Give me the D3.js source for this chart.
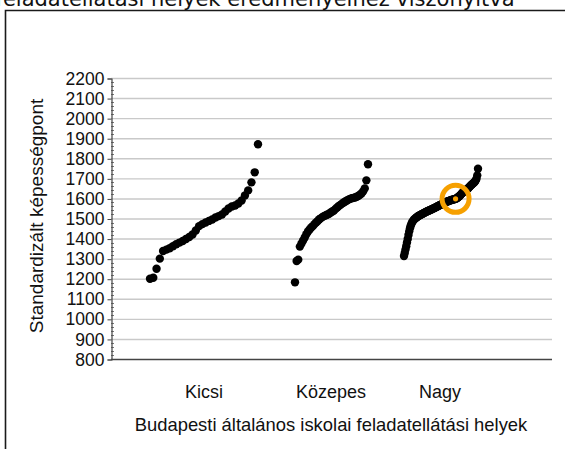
<!DOCTYPE html>
<html>
<head>
<meta charset="utf-8">
<script src="https://cdn.jsdelivr.net/npm/d3@7"></script>
<style>
  html, body { margin: 0; padding: 0; background: #fff; }
  svg { display: block; }
</style>
</head>
<body>
<svg id="chart" width="565" height="449"></svg>
<script>
// ---------------- DATA ----------------
const categories = ["Kicsi", "Közepes", "Nagy"];

const kicsiValues = [1200, 1205, 1250, 1300, 1338, 1345, 1352, 1362, 1372, 1380, 1388, 1398,
  1408, 1420, 1440, 1462, 1472, 1480, 1488, 1495, 1505, 1512, 1520, 1535, 1550, 1560, 1565,
  1575, 1590, 1615, 1640, 1680, 1730, 1870];

const kozepesValues = [1182, 1288, 1295, 1360, 1375, 1390, 1405, 1422, 1435, 1445, 1455, 1462,
  1472, 1480, 1488, 1496, 1502, 1508, 1512, 1516, 1520, 1524, 1530, 1535, 1540, 1548, 1555,
  1562, 1568, 1574, 1580, 1585, 1590, 1594, 1598, 1601, 1603, 1605, 1608, 1612, 1618, 1625,
  1635, 1650, 1690, 1770];

const nagyValues = [1313, 1328, 1345, 1362, 1380, 1398, 1418, 1436, 1452, 1464, 1474, 1482,
  1488, 1493, 1497, 1500, 1503, 1506, 1509, 1512, 1514, 1516, 1518, 1520, 1522, 1524, 1526,
  1528, 1530, 1532, 1534, 1536, 1537, 1539, 1541, 1542, 1544, 1546, 1548, 1550, 1551, 1553,
  1555, 1557, 1559, 1561, 1563, 1565, 1567, 1568, 1570, 1572, 1574, 1576, 1578, 1580, 1582,
  1583, 1585, 1586, 1588, 1589, 1590, 1592, 1593, 1594, 1595, 1596, 1597, 1598, 1600, 1602,
  1605, 1608, 1611, 1615, 1619, 1623, 1627, 1631, 1635, 1638, 1640, 1642, 1645, 1648, 1651,
  1655, 1659, 1663, 1667, 1670, 1674, 1677, 1680, 1684, 1690, 1698, 1715, 1748];

const seriesValues = [kicsiValues, kozepesValues, nagyValues];

// highlighted school (category, rank in sorted list)
const highlightCategory = "Nagy";
const highlightRank = 69;

const yTickValues = [800, 900, 1000, 1100, 1200, 1300, 1400, 1500, 1600, 1700, 1800, 1900, 2000, 2100, 2200];

const titleText = "feladatellátási helyek eredményeihez viszonyítva";
const yAxisTitle = "Standardizált képességpont";
const xAxisTitle = "Budapesti általános iskolai feladatellátási helyek";

// ---------------- LAYOUT ----------------
const plot = { left: 111, right: 552, top: 78, bottom: 359 };
// horizontal span of each category's sorted dots, and label centres
const groupSpan = { "Kicsi": [150, 258], "Közepes": [295, 368], "Nagy": [404, 478] };
const labelCenter = d3.scaleOrdinal().domain(categories).range([204, 331, 440]);

const svg = d3.select("#chart");
const font = "'Liberation Sans', Arial, sans-serif";

// frame (cropped figure border)
svg.append("path")
  .attr("d", "M5.5,449 L5.5,10.5 L565,10.5")
  .attr("fill", "none").attr("stroke", "#1a1a1a").attr("stroke-width", 1.6);

// cut-off title
svg.append("text")
  .attr("x", -4.5).attr("y", 6)
  .attr("font-family", "'DejaVu Sans', Verdana, sans-serif")
  .attr("font-size", 21)
  .attr("fill", "#111")
  .text(titleText);

// y scale
const y = d3.scaleLinear().domain([800, 2200]).range([plot.bottom, plot.top]);

// grid lines
svg.append("g").selectAll("line")
  .data(yTickValues.filter(v => v > 800))
  .join("line")
  .attr("x1", plot.left).attr("x2", plot.right)
  .attr("y1", d => y(d) + 0.5).attr("y2", d => y(d) + 0.5)
  .attr("stroke", "#c9c9c9").attr("stroke-width", 1.4);

// minor ticks (inside)
const minor = d3.range(800, 2200, 20).filter(v => v % 100 !== 0);
svg.append("g").selectAll("line")
  .data(minor)
  .join("line")
  .attr("x1", plot.left).attr("x2", plot.left + 3)
  .attr("y1", d => Math.round(y(d)) + 0.5).attr("y2", d => Math.round(y(d)) + 0.5)
  .attr("stroke", "#777").attr("stroke-width", 1);

// y axis
const yAxis = d3.axisLeft(y).tickValues(yTickValues).tickSize(4).tickPadding(3).tickFormat(d3.format("d"));
const gy = svg.append("g").attr("transform", `translate(${plot.left + 0.5},0.5)`).call(yAxis);
gy.select(".domain").attr("stroke", "#444").attr("stroke-width", 1.2);
gy.selectAll(".tick line").attr("stroke", "#444");
gy.selectAll(".tick text").attr("font-family", font).attr("font-size", 17.5).attr("fill", "#111");

// x axis baseline
svg.append("line")
  .attr("x1", plot.left).attr("x2", plot.right)
  .attr("y1", plot.bottom + 0.5).attr("y2", plot.bottom + 0.5)
  .attr("stroke", "#444").attr("stroke-width", 1.4);

// dots
categories.forEach((cat, ci) => {
  const vals = seriesValues[ci];
  const x = d3.scaleLinear().domain([0, vals.length - 1]).range(groupSpan[cat]);
  svg.append("g").selectAll("circle")
    .data(vals)
    .join("circle")
    .attr("cx", (d, i) => x(i))
    .attr("cy", d => y(d))
    .attr("r", 4.2)
    .attr("fill", "#000");
  if (cat === highlightCategory) {
    const hx = x(highlightRank), hy = y(vals[highlightRank]);
    svg.append("circle").attr("cx", hx).attr("cy", hy).attr("r", 13.5)
      .attr("fill", "none").attr("stroke", "#f6a000").attr("stroke-width", 5);
    svg.append("circle").attr("cx", hx).attr("cy", hy).attr("r", 2.6).attr("fill", "#f6a000");
  }
});

// category labels
svg.append("g").selectAll("text")
  .data(categories)
  .join("text")
  .attr("x", d => labelCenter(d))
  .attr("y", 398)
  .attr("text-anchor", "middle")
  .attr("font-family", font).attr("font-size", 18).attr("fill", "#111")
  .text(d => d);

// x axis title
svg.append("text")
  .attr("x", 331).attr("y", 431)
  .attr("text-anchor", "middle")
  .attr("font-family", font).attr("font-size", 18.4).attr("fill", "#111")
  .text(xAxisTitle);

// y axis title
svg.append("text")
  .attr("transform", `translate(43,216) rotate(-90)`)
  .attr("text-anchor", "middle")
  .attr("font-family", font).attr("font-size", 19).attr("fill", "#111")
  .text(yAxisTitle);
</script>
</body>
</html>
